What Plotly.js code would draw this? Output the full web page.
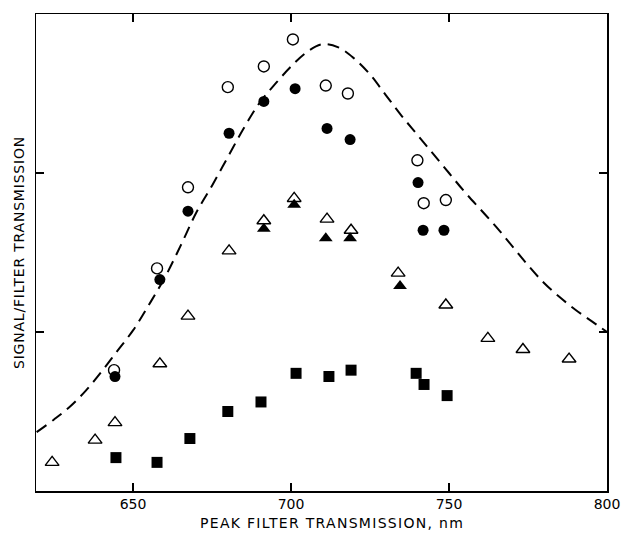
<!DOCTYPE html>
<html>
<head>
<meta charset="utf-8">
<script src="https://cdn.plot.ly/plotly-3.0.1.min.js"></script>
<style>
html,body{margin:0;padding:0;background:#fff;}
#chart{width:623px;height:541px;}
.ytitle{letter-spacing:0.8px;}
.annotation-text{letter-spacing:1.3px;}
</style>
</head>
<body>
<div id="chart"></div>
<script>
// Open circles
const openCircleX = [644, 657.6, 667.4, 680, 691.4, 700.6, 711, 718, 740, 742, 749];
const openCircleY = [0.76, 1.40, 1.91, 2.54, 2.67, 2.84, 2.55, 2.50, 2.08, 1.81, 1.83];
// Filled circles
const filledCircleX = [644.3, 658.5, 667.4, 680.4, 691.4, 701.3, 711.4, 718.7, 740.2, 741.8, 748.4];
const filledCircleY = [0.72, 1.33, 1.76, 2.25, 2.45, 2.53, 2.28, 2.21, 1.94, 1.64, 1.64];
// Open triangles
const openTriX = [624.4, 638, 644.3, 658.5, 667.4, 680.4, 691.4, 701, 711.4, 719, 733.9, 749, 762.3, 773.4, 788];
const openTriY = [0.18, 0.32, 0.43, 0.80, 1.10, 1.51, 1.70, 1.84, 1.71, 1.64, 1.37, 1.17, 0.96, 0.89, 0.83];
// Filled triangles
const filledTriX = [691.4, 701, 711, 718.7, 734.5];
const filledTriY = [1.65, 1.80, 1.59, 1.59, 1.29];
// Filled squares
const squareX = [644.6, 657.6, 668, 680, 690.5, 701.6, 712, 719, 739.6, 742.1, 749.4];
const squareY = [0.21, 0.18, 0.33, 0.50, 0.56, 0.74, 0.72, 0.76, 0.74, 0.67, 0.60];
// Dashed curve
const curveX = [619.5, 625, 630, 635, 640, 645, 650, 655, 660, 665, 670, 675, 680, 685, 690, 695, 700, 705, 710, 715, 720, 725, 730, 735, 740, 745, 750, 755, 760, 765, 770, 775, 780, 785, 790, 795, 800];
const curveY = [0.37, 0.45, 0.53, 0.63, 0.75, 0.88, 1.01, 1.17, 1.34, 1.54, 1.75, 1.92, 2.10, 2.28, 2.44, 2.56, 2.67, 2.76, 2.81, 2.79, 2.72, 2.62, 2.49, 2.36, 2.24, 2.12, 2.00, 1.88, 1.77, 1.66, 1.54, 1.42, 1.31, 1.22, 1.14, 1.07, 1.00];
// Tick labels and titles
const xTickVals = [650, 700, 750, 800];
const xTickText = ['650', '700', '750', '800'];
const yTickVals = [1, 2];
const xTitle = 'PEAK FILTER TRANSMISSION, nm';
const yTitle = 'SIGNAL/FILTER TRANSMISSION';

const traces = [
  {x: curveX, y: curveY, mode: 'lines', line: {color: '#000', width: 2, dash: '12px,7px', shape: 'spline'}, hoverinfo: 'skip'},
  {x: openCircleX, y: openCircleY, mode: 'markers', marker: {symbol: 'circle-open', size: 11, color: '#000', line: {width: 1.4, color: '#000'}}},
  {x: filledCircleX, y: filledCircleY, mode: 'markers', marker: {symbol: 'circle', size: 11, color: '#000'}},
  {x: openTriX, y: openTriY, mode: 'markers', marker: {symbol: 'triangle-up-open', size: 12, color: '#000', line: {width: 1.4, color: '#000'}}},
  {x: filledTriX, y: filledTriY, mode: 'markers', marker: {symbol: 'triangle-up', size: 12, color: '#000'}},
  {x: squareX, y: squareY, mode: 'markers', marker: {symbol: 'square', size: 11, color: '#000'}}
];

const layout = {
  width: 623, height: 541,
  margin: {l: 36, r: 16, t: 14, b: 50},
  paper_bgcolor: '#fff', plot_bgcolor: '#fff',
  showlegend: false,
  font: {family: 'DejaVu Sans, sans-serif', color: '#000'},
  xaxis: {
    range: [619.3, 800], tickvals: xTickVals, ticktext: xTickText,
    ticks: 'inside', ticklen: 8, tickwidth: 1.2, tickcolor: '#000',
    showline: true, linecolor: '#000', linewidth: 1.5, mirror: 'ticks',
    showgrid: false, zeroline: false,
    tickfont: {size: 14, family: 'DejaVu Sans, sans-serif'}
  },
  yaxis: {
    range: [0, 3.0], tickvals: yTickVals, showticklabels: false,
    ticks: 'inside', ticklen: 8, tickwidth: 1.2, tickcolor: '#000',
    showline: true, linecolor: '#000', linewidth: 1.5, mirror: 'ticks',
    showgrid: false, zeroline: false,
    title: {text: yTitle, font: {size: 14}, standoff: 6}
  },
  annotations: [{
    text: xTitle, xref: 'paper', yref: 'paper', x: 0.518, y: 0, yshift: -32,
    xanchor: 'center', yanchor: 'middle', showarrow: false, font: {size: 14, color: '#000'}
  }]
};

Plotly.newPlot('chart', traces, layout, {displayModeBar: false, staticPlot: true});
</script>
</body>
</html>
